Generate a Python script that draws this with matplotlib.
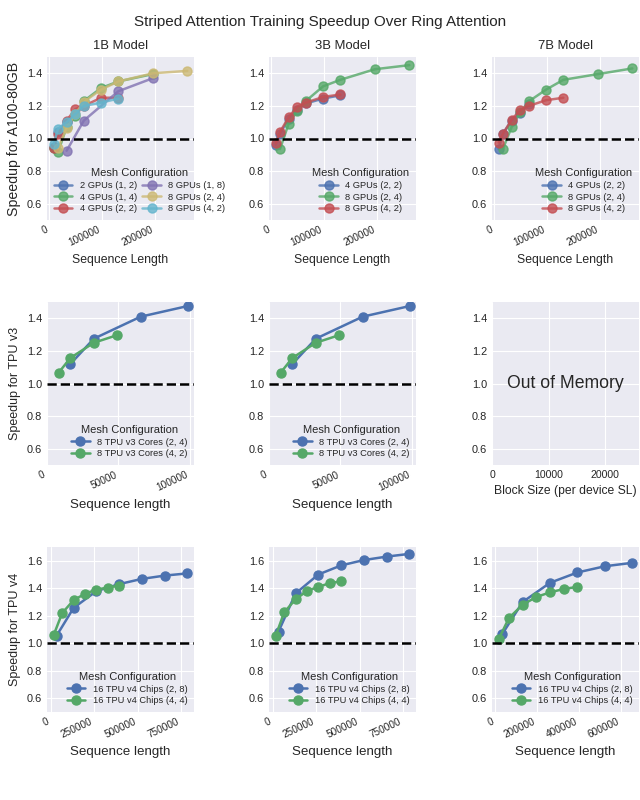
import matplotlib
matplotlib.use("Agg")
import matplotlib.pyplot as plt

# ---- data ----
GPU_1B_LABELS = ["2 GPUs (1, 2)", "4 GPUs (1, 4)", "4 GPUs (2, 2)",
                 "8 GPUs (1, 8)", "8 GPUs (2, 4)", "8 GPUs (4, 2)"]
GPU_1B_X = [
    [8192, 16384, 32768],
    [8192, 16384, 32768, 49152, 65536, 98304, 131072, 196608],
    [8192, 16384, 32768, 49152, 65536, 98304, 131072],
    [32768, 65536, 131072, 196608],
    [16384, 32768, 49152, 65536, 98304, 131072, 196608, 262144],
    [8192, 16384, 32768, 49152, 65536, 98304, 131072],
]
GPU_1B_Y = [
    [0.95, 1.04, 1.10],
    [0.94, 0.915, 1.07, 1.14, 1.23, 1.31, 1.35, 1.395],
    [0.94, 1.03, 1.11, 1.18, 1.20, 1.25, 1.25],
    [0.925, 1.11, 1.29, 1.37],
    [0.94, 1.065, 1.15, 1.225, 1.30, 1.35, 1.40, 1.415],
    [0.965, 1.06, 1.10, 1.15, 1.20, 1.22, 1.245],
]

GPU_3B_LABELS = ["4 GPUs (2, 2)", "8 GPUs (2, 4)", "8 GPUs (4, 2)"]
GPU_3B_X = [
    [8192, 16384, 32768, 49152, 65536, 98304, 131072],
    [16384, 32768, 49152, 65536, 98304, 131072, 196608, 262144],
    [8192, 16384, 32768, 49152, 65536, 98304, 131072],
]
GPU_3B_Y = [
    [0.96, 1.03, 1.12, 1.175, 1.215, 1.245, 1.265],
    [0.935, 1.09, 1.17, 1.23, 1.32, 1.36, 1.425, 1.45],
    [0.97, 1.04, 1.13, 1.195, 1.22, 1.255, 1.27],
]

GPU_7B_LABELS = ["4 GPUs (2, 2)", "8 GPUs (2, 4)", "8 GPUs (4, 2)"]
GPU_7B_X = [
    [8192, 16384, 32768, 49152, 65536],
    [16384, 32768, 49152, 65536, 98304, 131072, 196608, 262144],
    [8192, 16384, 32768, 49152, 65536, 98304, 131072],
]
GPU_7B_Y = [
    [0.935, 1.03, 1.11, 1.155, 1.21],
    [0.937, 1.07, 1.16, 1.228, 1.30, 1.36, 1.395, 1.43],
    [0.975, 1.03, 1.115, 1.175, 1.20, 1.235, 1.25],
]

V3_LABELS = ["8 TPU v3 Cores (2, 4)", "8 TPU v3 Cores (4, 2)"]
V3_X = [[16384, 32768, 65536, 98304], [8192, 16384, 32768, 49152]]
V3_Y = [[1.12, 1.275, 1.41, 1.475], [1.067, 1.157, 1.25, 1.297]]

V4_LABELS = ["16 TPU v4 Chips (2, 8)", "16 TPU v4 Chips (4, 4)"]
V4_X_28 = [32768, 131072, 262144, 393216, 524288, 655360, 786432]
V4_X_44 = [16384, 65536, 131072, 196608, 262144, 327680, 393216]
V4_1B_Y = [[1.054, 1.257, 1.379, 1.43, 1.468, 1.492, 1.508],
           [1.06, 1.22, 1.313, 1.36, 1.39, 1.405, 1.42]]
V4_3B_Y = [[1.085, 1.362, 1.50, 1.566, 1.605, 1.63, 1.65],
           [1.054, 1.225, 1.32, 1.38, 1.41, 1.437, 1.45]]
V4_7B_Y = [[1.065, 1.30, 1.44, 1.515, 1.56, 1.585],
           [1.03, 1.184, 1.28, 1.337, 1.37, 1.395, 1.41]]

plt.style.use("seaborn-v0_8-darkgrid")
plt.rcParams["font.family"] = ["Liberation Sans", "DejaVu Sans"]
plt.rcParams["xtick.labelsize"] = 7.2
plt.rcParams["ytick.labelsize"] = 7.9

DEEP = ["#4C72B0", "#55A868", "#C44E52", "#8172B2", "#CCB974", "#64B5CD"]
LEG = dict(title="Mesh Configuration", fontsize=6.7, title_fontsize=8,
           labelspacing=0.3, borderaxespad=0.3)

fig = plt.figure(figsize=(6.4, 8), dpi=100)


def make_ax(left_px, top_px, bottom_px, width_px=147):
    return fig.add_axes([left_px / 640, 1 - bottom_px / 800,
                         width_px / 640, (bottom_px - top_px) / 800])


def draw(ax, xs, ys, labels, colors, alpha=1.0):
    for x, y, lab, c in zip(xs, ys, labels, colors):
        ax.plot(x, y, marker="o", ms=6.5, lw=1.8, color=c, alpha=alpha, label=lab)
    ax.axhline(1.0, color="black", ls="--", lw=1.8)


def rotate_x(ax):
    plt.setp(ax.get_xticklabels(), rotation=25, ha="right")


lefts = [47, 269, 492]

# row 1: A100
row1 = [(GPU_1B_X, GPU_1B_Y, GPU_1B_LABELS, DEEP),
        (GPU_3B_X, GPU_3B_Y, GPU_3B_LABELS, DEEP[:3]),
        (GPU_7B_X, GPU_7B_Y, GPU_7B_LABELS, DEEP[:3])]
titles = ["1B Model", "3B Model", "7B Model"]
for i, (xs, ys, labs, cols) in enumerate(row1):
    ax = make_ax(lefts[i], 57, 220)
    draw(ax, xs, ys, labs, cols, alpha=0.8)
    ax.set_ylim(0.5, 1.5)
    ax.set_yticks([0.6, 0.8, 1.0, 1.2, 1.4])
    ax.set_xticks([0, 100000, 200000])
    rotate_x(ax)
    ax.set_title(titles[i], fontsize=9.4)
    ax.set_xlabel("Sequence Length", fontsize=8.8)
    if i == 0:
        ax.set_ylabel("Speedup for A100-80GB", fontsize=10.2)
        ax.legend(loc="lower left", ncol=2, columnspacing=0.6, **LEG)
    else:
        ax.legend(loc="lower right", **LEG)

# row 2: TPU v3
for i in range(2):
    ax = make_ax(lefts[i], 302, 465)
    draw(ax, V3_X, V3_Y, V3_LABELS, DEEP[:2])
    ax.set_ylim(0.5, 1.5)
    ax.set_yticks([0.6, 0.8, 1.0, 1.2, 1.4])
    ax.set_xticks([0, 50000, 100000])
    rotate_x(ax)
    ax.set_xlabel("Sequence length", fontsize=9.6)
    if i == 0:
        ax.set_ylabel("Speedup for TPU v3", fontsize=9)
    ax.legend(loc="lower right", **LEG)

ax = make_ax(lefts[2], 302, 465)
ax.set_xlim(0, 26000)
ax.set_ylim(0.5, 1.5)
ax.set_yticks([0.6, 0.8, 1.0, 1.2, 1.4])
ax.set_xticks([0, 10000, 20000])
ax.tick_params(axis="x", labelsize=7.6)
ax.set_xlabel("Block Size (per device SL)", fontsize=8.7)
ax.text(13000, 1.0, "Out of Memory", ha="center", va="center", fontsize=12.7)

# row 3: TPU v4
row3 = [([V4_X_28, V4_X_44], V4_1B_Y, [0, 250000, 500000, 750000]),
        ([V4_X_28, V4_X_44], V4_3B_Y, [0, 250000, 500000, 750000]),
        ([V4_X_28[:6], V4_X_44], V4_7B_Y, [0, 200000, 400000, 600000])]
for i, (xs, ys, ticks) in enumerate(row3):
    ax = make_ax(lefts[i], 547, 712)
    draw(ax, xs, ys, V4_LABELS, DEEP[:2])
    ax.set_ylim(0.5, 1.7)
    ax.set_yticks([0.6, 0.8, 1.0, 1.2, 1.4, 1.6])
    ax.set_xticks(ticks)
    rotate_x(ax)
    ax.set_xlabel("Sequence length", fontsize=9.6)
    if i == 0:
        ax.set_ylabel("Speedup for TPU v4", fontsize=9)
    ax.legend(loc="lower right", **LEG)

fig.suptitle("Striped Attention Training Speedup Over Ring Attention",
             y=0.981, fontsize=11)

fig.savefig("out.png", dpi=100)
